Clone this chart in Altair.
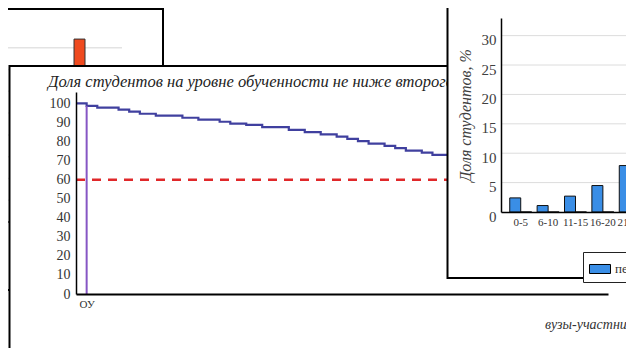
import altair as alt
import pandas as pd

# ---------------- main panel (step line) ----------------
main_title = "Доля студентов на уровне обученности не ниже второго"
main_x_title = "вузы-участники"
rank = [0, 2, 4, 8, 10, 12, 15, 20, 23, 27, 29, 32, 35, 40, 43, 46, 49, 51, 53, 55, 58, 60, 62, 65, 67, 70]
share = [100, 98.7, 97.8, 96.7, 95.7, 94.6, 93.6, 92.5, 91.5, 90.4, 89.4, 88.7, 87.6, 86.1,
         84.9, 83.8, 82.6, 81.4, 80.2, 78.9, 77.7, 76.5, 75.2, 74.2, 73.0, 73.0]
ou_label = "ОУ"
ou_rank = 2
ou_share = 98.7
threshold = 60
main_x_domain = [0, 100]
main_y_domain = [0, 106]
main_y_ticks = [0, 10, 20, 30, 40, 50, 60, 70, 80, 90, 100]

# ---------------- front panel (histogram) ----------------
front_categories = ["0-5", "6-10", "11-15", "16-20", "21-25"]
front_series = ["первый уровень", "второй уровень"]
front_first = [2.4, 1.1, 2.7, 4.5, 7.9]
front_second = [0, 0, 0, 0, 0.4]
front_y_ticks = [0, 5, 10, 15, 20, 25, 30]
front_y_domain = [0, 33]
front_y_title = "Доля студентов, %"

# ---------------- back panel (partly hidden bar chart) ----------------
back_categories = ["группа 1", "группа 2"]
back_series = ["первый уровень", "второй уровень"]
back_first = [12, 6]
back_second = [0, 42]
back_y_ticks = [5, 10, 15, 20, 25, 30, 35, 40]
back_y_domain = [0, 45]

BLUE = "#3a8ee6"
RED = "#ef4a1f"
SERIF = "Liberation Serif"
W, H = 618, 340

one = pd.DataFrame({"k": [0]})


def frame(x, x2, y, y2):
    return alt.Chart(one).mark_rect(fill="white", stroke="black", strokeWidth=2).encode(
        x=alt.value(x), x2=alt.value(x2), y=alt.value(y), y2=alt.value(y2))


# ---- back panel
back_df = pd.DataFrame({
    "cat": back_categories * 2,
    "series": [back_series[0]] * len(back_categories) + [back_series[1]] * len(back_categories),
    "value": back_first + back_second,
})
back_x = alt.Scale(domain=back_categories, range=[-48, 104], paddingInner=0.711, paddingOuter=0.355)
back_y = alt.Scale(domain=back_y_domain, range=[214, 18], nice=False)
back_grid = alt.Chart(pd.DataFrame({"v": back_y_ticks})).mark_rule(color="#e3e3e3", strokeWidth=1.5).encode(
    y=alt.Y("v:Q", scale=back_y, axis=None), x=alt.value(0), x2=alt.value(114))
back_bars = alt.Chart(back_df).mark_bar(stroke="#333", strokeWidth=1).encode(
    x=alt.X("cat:N", scale=back_x, axis=None, sort=back_categories),
    xOffset=alt.XOffset("series:N", sort=back_series),
    y=alt.Y("value:Q", scale=back_y, axis=None),
    color=alt.Color("series:N", scale=alt.Scale(domain=back_series, range=[BLUE, RED]), legend=None),
)
back_layer = alt.layer(back_grid, back_bars)

# ---- main panel
mx = alt.Scale(domain=main_x_domain, range=[68, 600], nice=False, zero=False)
my = alt.Scale(domain=main_y_domain, range=[286, 84], nice=False)
mx_axis = alt.Axis(orient="bottom", offset=-(H - 286), values=[ou_rank], labelExpr=f"'{ou_label}'",
                   ticks=False, grid=False, domainColor="black", domainWidth=2,
                   labelFont=SERIF, labelFontSize=11, labelColor="#333", labelPadding=4,
                   title=None, zindex=1)
my_axis = alt.Axis(orient="left", offset=-68, values=main_y_ticks, ticks=False, grid=False,
                   domainColor="black", domainWidth=1.5, labelFont=SERIF, labelFontSize=14,
                   labelColor="#333", labelPadding=6, title=None, zindex=1)

thr_df = pd.DataFrame({"x0": [main_x_domain[0]], "x1": [main_x_domain[1]], "y": [threshold]})
thr = alt.Chart(thr_df).mark_rule(color="#e0282a", strokeWidth=2.5, strokeDash=[9, 7]).encode(
    x=alt.X("x0:Q", scale=mx, axis=mx_axis), x2="x1:Q", y=alt.Y("y:Q", scale=my, axis=my_axis))
line_df = pd.DataFrame({"rank": rank, "share": share})
step = alt.Chart(line_df).mark_line(interpolate="step-after", color="#40409f", strokeWidth=2.2).encode(
    x=alt.X("rank:Q", scale=mx, axis=mx_axis), y=alt.Y("share:Q", scale=my, axis=my_axis))
ou_df = pd.DataFrame({"r": [ou_rank], "lo": [0], "hi": [ou_share]})
ou_rule = alt.Chart(ou_df).mark_rule(color="#8656c4", strokeWidth=2).encode(
    x=alt.X("r:Q", scale=mx, axis=mx_axis), y=alt.Y("lo:Q", scale=my, axis=my_axis), y2="hi:Q")
main_layer = alt.layer(thr, step, ou_rule)

main_title_text = alt.Chart(pd.DataFrame({"t": [main_title]})).mark_text(
    align="left", baseline="middle", font=SERIF, fontStyle="italic", fontSize=16.5, color="#222").encode(
    text="t:N", x=alt.value(40), y=alt.value(74))
main_x_title_text = alt.Chart(pd.DataFrame({"t": [main_x_title]})).mark_text(
    align="left", baseline="middle", font=SERIF, fontStyle="italic", fontSize=14, color="#333").encode(
    text="t:N", x=alt.value(537), y=alt.value(317))

# ---- front panel
front_df = pd.DataFrame({
    "cat": front_categories * 2,
    "series": [front_series[0]] * len(front_categories) + [front_series[1]] * len(front_categories),
    "value": front_first + front_second,
})
fx = alt.Scale(domain=front_categories, range=[493, 642], paddingInner=0.197, paddingOuter=0.319)
fy = alt.Scale(domain=front_y_domain, range=[204, 10], nice=False)
fy_axis = alt.Axis(orient="left", offset=-493, values=front_y_ticks, ticks=False, grid=False,
                   domainColor="black", domainWidth=1.5, labelFont=SERIF, labelFontSize=15,
                   labelColor="#404040", labelPadding=5, labelOffset=4,
                   title=front_y_title, titleFont=SERIF, titleFontStyle="italic",
                   titleFontWeight="normal", titleFontSize=16, titleColor="#404040",
                   titlePadding=8, zindex=1)
fx_axis = alt.Axis(orient="bottom", offset=-(H - 204), ticks=False, grid=False, domainColor="black",
                   domainWidth=1.5, labelAngle=0, labelFont="Liberation Sans Narrow",
                   labelFontSize=11, labelColor="#333", labelPadding=4, labelOverlap=False,
                   title=None, zindex=1)
front_grid = alt.Chart(pd.DataFrame({"v": front_y_ticks[1:]})).mark_rule(color="#dcdcdc", strokeWidth=1).encode(
    y=alt.Y("v:Q", scale=fy, axis=fy_axis), x=alt.value(493), x2=alt.value(700))
front_bars = alt.Chart(front_df).mark_bar(stroke="#111", strokeWidth=1).encode(
    x=alt.X("cat:N", scale=fx, axis=fx_axis, sort=front_categories),
    xOffset=alt.XOffset("series:N", sort=front_series),
    y=alt.Y("value:Q", scale=fy, axis=fy_axis),
    color=alt.Color("series:N", scale=alt.Scale(domain=front_series, range=[BLUE, RED]),
                    legend=alt.Legend(orient="none", legendX=575, legendY=244, direction="horizontal",
                                      title=None, symbolType="M-1,-0.43H1V0.43H-1Z", symbolSize=441,
                                      symbolStrokeColor="black", symbolStrokeWidth=1, padding=6,
                                      strokeColor="#222", fillColor="white", labelFont=SERIF,
                                      labelFontSize=13, labelColor="#333", labelOffset=4)),
)
front_layer = alt.layer(front_grid, front_bars)

chart = alt.layer(
    frame(-20, 155, 1, 282), back_layer,
    frame(1.5, 800, 58, 500), main_title_text, main_layer, main_x_title_text,
    frame(439.5, 800, -10, 270), front_layer,
).resolve_scale(
    x="independent", y="independent", color="independent", xOffset="independent"
).resolve_axis(x="independent", y="independent").properties(
    width=W, height=H, autosize=alt.AutoSizeParams(type="none"), padding=0, background="white"
).configure_view(strokeWidth=0)

chart.save("out.html", embed_options={"renderer": "svg", "actions": False})
